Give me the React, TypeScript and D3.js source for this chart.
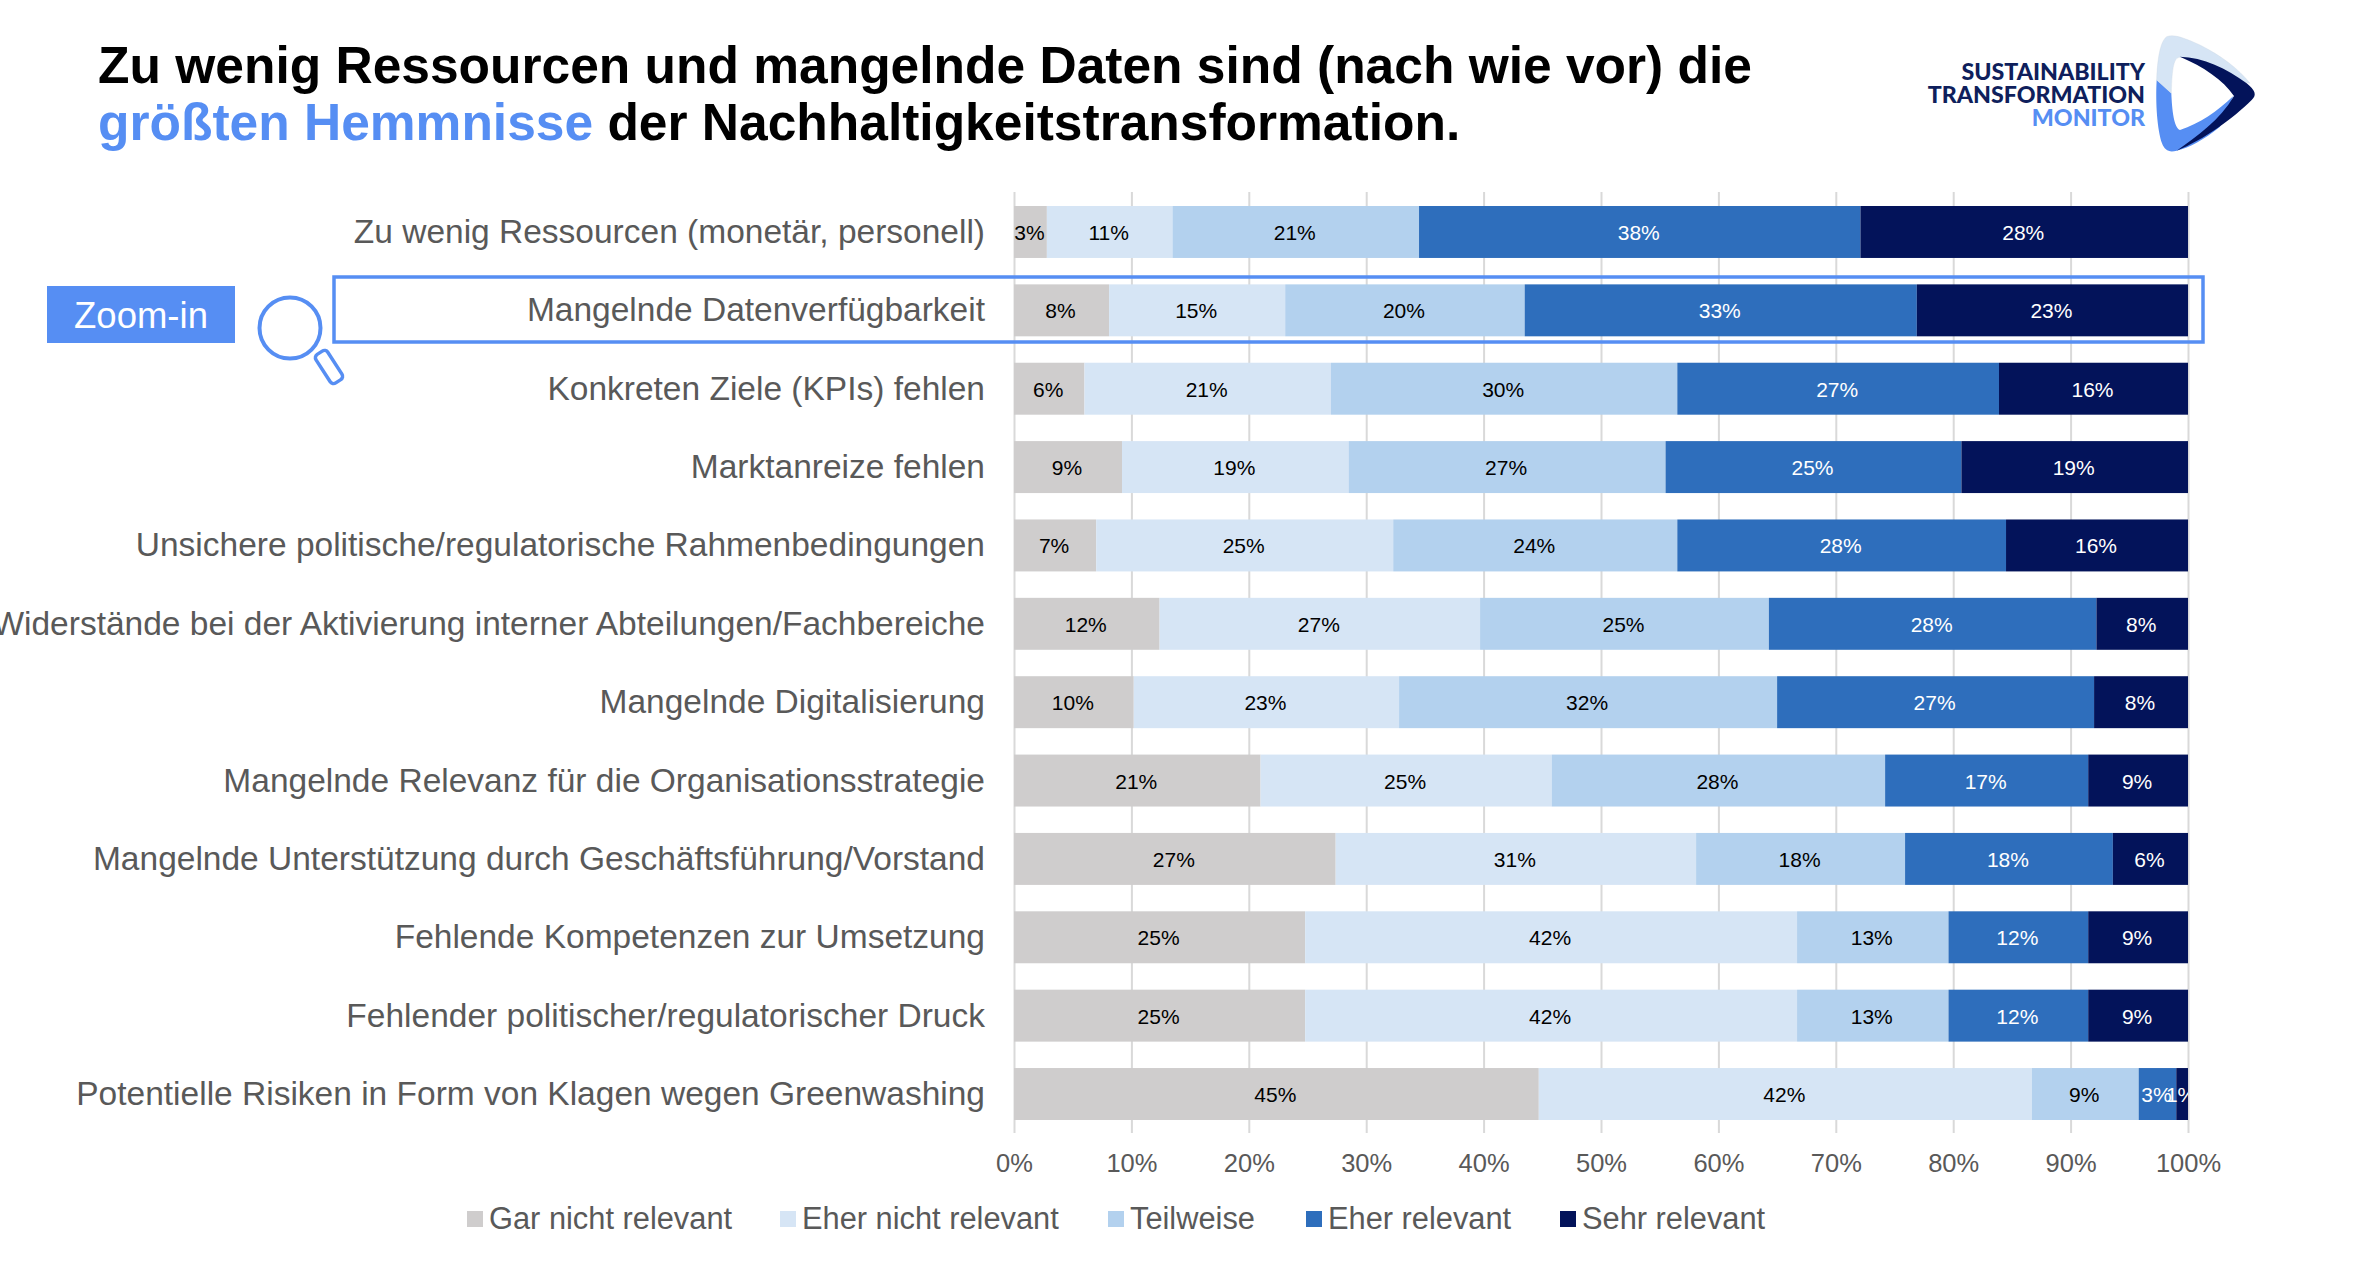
import React, { useEffect, useRef } from 'react';
import * as d3 from 'd3';

const categories = [
  'Zu wenig Ressourcen (monetär, personell)',
  'Mangelnde Datenverfügbarkeit',
  'Konkreten Ziele (KPIs) fehlen',
  'Marktanreize fehlen',
  'Unsichere politische/regulatorische Rahmenbedingungen',
  'Widerstände bei der Aktivierung interner Abteilungen/Fachbereiche',
  'Mangelnde Digitalisierung',
  'Mangelnde Relevanz für die Organisationsstrategie',
  'Mangelnde Unterstützung durch Geschäftsführung/Vorstand',
  'Fehlende Kompetenzen zur Umsetzung',
  'Fehlender politischer/regulatorischer Druck',
  'Potentielle Risiken in Form von Klagen wegen Greenwashing'
];

// the labels are these rounded
const garNicht = [2.8, 8.1, 6, 9.2, 7, 12.4, 10.2, 21, 27.4, 24.8, 24.8, 44.7];
const eherNicht = [10.7, 15, 21, 19.3, 25.3, 27.3, 22.6, 24.8, 30.7, 41.9, 41.9, 42];
const teilweise = [21, 20.4, 29.5, 27, 24.2, 24.6, 32.2, 28.4, 17.8, 12.9, 12.9, 9.1];
const eherRelevant = [37.6, 33.4, 27.4, 25.2, 28, 27.9, 27, 17.3, 17.7, 11.9, 11.9, 3.2];
const sehrRelevant = [27.9, 23.1, 16.1, 19.3, 15.5, 7.8, 8, 8.5, 6.4, 8.5, 8.5, 1];

const seriesNames = ['Gar nicht relevant', 'Eher nicht relevant', 'Teilweise', 'Eher relevant', 'Sehr relevant'];
const seriesValues = [garNicht, eherNicht, teilweise, eherRelevant, sehrRelevant];
const seriesColors = ['#CFCDCD', '#D6E5F5', '#B3D1EE', '#2E6EBC', '#03135A'];
const labelColors = ['#000000', '#000000', '#000000', '#FFFFFF', '#FFFFFF'];
const legendSwatchX = [467, 780, 1108, 1306, 1560];

const FONT = '"Liberation Sans", Arial, sans-serif';
const BLUE = '#568EF3';

const App: React.FC = () => {
  const svgRef = useRef<SVGSVGElement>(null);

  useEffect(() => {
    if (!svgRef.current) return;
    const svg = d3.select(svgRef.current);
    svg.selectAll('*').remove();

    const x = d3.scaleLinear().domain([0, 100]).range([1014, 2188]);
    const y = d3.scaleBand<string>().domain(categories).range([206, 1120]).paddingInner(0.337).paddingOuter(0);

    const table = categories.map((c, i) => {
      const row: any = { category: c };
      seriesNames.forEach((s, j) => { row[s] = seriesValues[j][i]; });
      return row;
    });
    const stacked = d3.stack<any>().keys(seriesNames)(table);

    // Title
    const title = svg.append('g').attr('font-family', FONT).attr('font-weight', 700).attr('font-size', 51.5).attr('fill', '#000');
    title.append('text').attr('x', 98).attr('y', 83)
      .text('Zu wenig Ressourcen und mangelnde Daten sind (nach wie vor) die');
    const line2 = title.append('text').attr('x', 98).attr('y', 140);
    line2.append('tspan').attr('fill', BLUE).text('größten Hemmnisse');
    line2.append('tspan').text(' der Nachhaltigkeitstransformation.');

    // Gridlines and tick labels
    const axis = svg.append('g')
      .attr('transform', 'translate(0,1133)')
      .call(d3.axisBottom(x)
        .tickValues(d3.range(0, 101, 10))
        .tickFormat(d => `${d}%`)
        .tickSizeInner(-941)
        .tickSizeOuter(0)
        .tickPadding(21));
    axis.select('.domain').remove();
    axis.selectAll('.tick line').attr('stroke', '#D9D9D9').attr('stroke-width', 2);
    axis.selectAll('text')
      .attr('font-family', FONT)
      .attr('font-size', 25.5)
      .attr('fill', '#595959');

    // Bars
    svg.append('g')
      .selectAll('g')
      .data(stacked)
      .enter()
      .append('g')
      .attr('fill', (_, i) => seriesColors[i])
      .selectAll('rect')
      .data(d => d)
      .enter()
      .append('rect')
      .attr('x', d => x(d[0]))
      .attr('y', d => y(d.data.category) as number)
      .attr('width', d => x(d[1]) - x(d[0]))
      .attr('height', y.bandwidth());

    // Category labels
    svg.append('g')
      .selectAll('text')
      .data(categories)
      .enter()
      .append('text')
      .attr('x', 985)
      .attr('y', d => (y(d) as number) + y.bandwidth() / 2 + 11)
      .attr('text-anchor', 'end')
      .attr('font-family', FONT)
      .attr('font-size', 33.5)
      .attr('fill', '#595959')
      .text(d => d);

    // Value labels, the last 1% gets cut at the 100% line
    svg.append('clipPath').attr('id', 'plot-clip')
      .append('rect').attr('x', x(0)).attr('y', 190).attr('width', x(100) - x(0)).attr('height', 950);
    svg.append('g')
      .attr('clip-path', 'url(#plot-clip)')
      .selectAll('g')
      .data(stacked)
      .enter()
      .append('g')
      .attr('fill', (_, i) => labelColors[i])
      .selectAll('text')
      .data(d => d)
      .enter()
      .append('text')
      .attr('x', d => x((d[0] + d[1]) / 2) - 1)
      .attr('y', d => (y(d.data.category) as number) + y.bandwidth() / 2 + 8)
      .attr('text-anchor', 'middle')
      .attr('font-family', FONT)
      .attr('font-size', 21)
      .text(d => `${Math.round(d[1] - d[0])}%`);

    // Legend
    const legend = svg.append('g')
      .selectAll('g')
      .data(seriesNames)
      .enter()
      .append('g')
      .attr('transform', (_, i) => `translate(${legendSwatchX[i]},0)`);
    legend.append('rect')
      .attr('y', 1211)
      .attr('width', 16)
      .attr('height', 16)
      .attr('fill', (_, i) => seriesColors[i]);
    legend.append('text')
      .attr('x', 22)
      .attr('y', 1229)
      .attr('font-family', FONT)
      .attr('font-size', 30.8)
      .attr('fill', '#595959')
      .text(d => d);

    // Zoom-in callout
    svg.append('rect')
      .attr('x', 334).attr('y', 277)
      .attr('width', 1869).attr('height', 65)
      .attr('fill', 'none').attr('stroke', BLUE).attr('stroke-width', 3.5);
    svg.append('rect')
      .attr('x', 47).attr('y', 286)
      .attr('width', 188).attr('height', 57)
      .attr('fill', BLUE);
    svg.append('text')
      .attr('x', 141).attr('y', 328)
      .attr('text-anchor', 'middle')
      .attr('font-family', FONT).attr('font-size', 36.5)
      .attr('fill', '#fff')
      .text('Zoom-in');
    svg.append('circle')
      .attr('cx', 290).attr('cy', 328).attr('r', 30.5)
      .attr('fill', 'none').attr('stroke', BLUE).attr('stroke-width', 4);
    svg.append('rect')
      .attr('x', -7).attr('y', -17)
      .attr('width', 14).attr('height', 34).attr('rx', 4)
      .attr('transform', 'translate(329,367) rotate(-33)')
      .attr('fill', 'none').attr('stroke', BLUE).attr('stroke-width', 3.5);

    // Logo, paths are in coordinates of the 3x crop
    const logo = svg.append('g').attr('transform', 'translate(1850,0) scale(0.33333)');
    logo.append('path')
      .attr('fill', BLUE)
      .attr('d', 'M920,240 C916,310 922,390 936,430 C944,452 958,458 980,452 C1020,442 1060,420 1110,380 L1150,288 C1100,335 1050,370 990,390 C972,385 966,330 964,280 Z');
    logo.append('path')
      .attr('fill', '#D6E5F5')
      .attr('stroke', '#C8D4E2')
      .attr('stroke-width', 1)
      .attr('d', 'M920,240 C922,180 930,125 950,110 C970,102 1000,112 1050,135 C1110,165 1165,205 1200,250 L1150,240 C1110,205 1050,175 990,172 C972,172 966,200 964,280 Z');
    logo.append('path')
      .attr('fill', '#03135A')
      .attr('d', 'M990,170 C1060,172 1130,205 1190,250 C1215,270 1222,285 1205,300 C1150,355 1060,420 980,452 C1040,410 1110,360 1152,288 C1120,240 1060,200 990,170 Z');
    const logoText = svg.append('g')
      .attr('font-family', 'Lato, sans-serif')
      .attr('font-weight', 900)
      .attr('font-size', 23.2)
      .attr('text-anchor', 'end');
    logoText.append('text').attr('x', 2145).attr('y', 80).attr('fill', '#0F1F5C').text('SUSTAINABILITY');
    logoText.append('text').attr('x', 2145).attr('y', 103).attr('fill', '#0F1F5C').text('TRANSFORMATION');
    logoText.append('text').attr('x', 2145).attr('y', 126).attr('fill', BLUE).text('MONITOR');
  }, []);

  return (
    <svg
      ref={svgRef}
      width={2354}
      height={1266}
      viewBox="0 0 2354 1266"
      style={{ position: 'absolute', left: 0, top: 0, background: '#fff' }}
    />
  );
};

export default App;
